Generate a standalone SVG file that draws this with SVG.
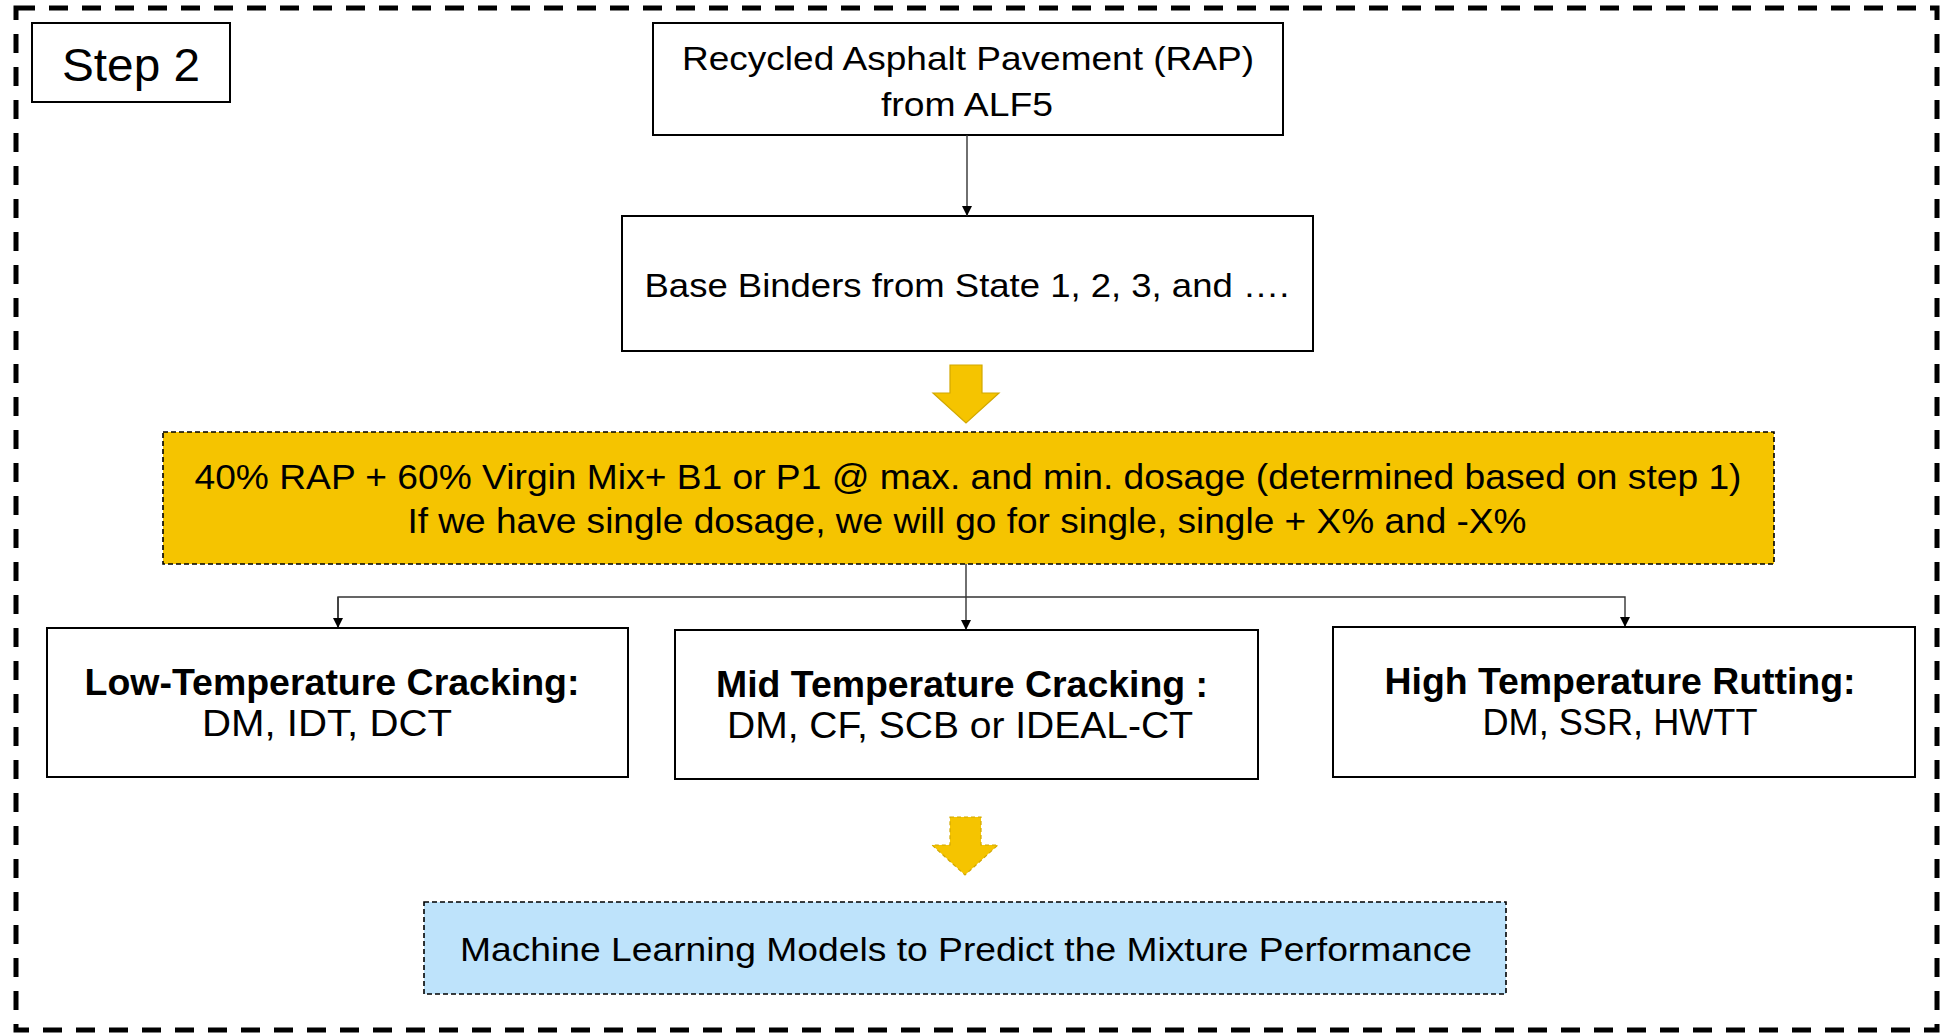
<svg xmlns="http://www.w3.org/2000/svg" width="1944" height="1035" viewBox="0 0 1944 1035">
<defs>
<marker id="ah" viewBox="0 0 10 10" refX="10" refY="5" markerWidth="10" markerHeight="10" markerUnits="userSpaceOnUse" orient="auto">
<path d="M0,0 L10,5 L0,10 Z" fill="#000"/>
</marker>
<style>
.box{fill:#fff;stroke:#000;stroke-width:2}
.t{font-family:"Liberation Sans",Arial,sans-serif;fill:#000;text-anchor:middle}
.b{font-weight:bold}
.conn{fill:none;stroke:#333;stroke-width:1.4}
.dash{stroke:#000;stroke-width:1.6;stroke-dasharray:5 3}
.yarrow{fill:#F5C400;stroke:#D2A800;stroke-width:1.2}
</style>
</defs>
<rect width="1944" height="1035" fill="#fff"/>
<rect id="frame" x="16" y="8" width="1921" height="1022" fill="none" stroke="#000" stroke-width="5" stroke-dasharray="19 14"/>

<g id="step2">
<rect class="box" x="32" y="23" width="198" height="79"/>
<text class="t" x="131" y="81" font-size="47" textLength="138" lengthAdjust="spacingAndGlyphs">Step 2</text>
</g>

<g id="rap">
<rect class="box" x="653" y="23" width="630" height="112"/>
<text class="t" x="968" y="70" font-size="34" textLength="572" lengthAdjust="spacingAndGlyphs">Recycled Asphalt Pavement (RAP)</text>
<text class="t" x="967" y="116" font-size="34" textLength="172" lengthAdjust="spacingAndGlyphs">from ALF5</text>
</g>

<g id="base">
<rect class="box" x="622" y="216" width="691" height="135"/>
<text class="t" x="967" y="297" font-size="34" textLength="645" lengthAdjust="spacingAndGlyphs">Base Binders from State 1, 2, 3, and ….</text>
</g>

<g id="arrow1">
<path class="yarrow" d="M950,365 H982 V393 H999 L966,423 L933,393 H950 Z"/>
</g>

<g id="mix">
<rect class="dash" x="163" y="432" width="1611" height="132" fill="#F5C400"/>
<text class="t" x="968" y="489" font-size="35" textLength="1547" lengthAdjust="spacingAndGlyphs">40% RAP + 60% Virgin Mix+ B1 or P1 @ max. and min. dosage (determined based on step 1)</text>
<text class="t" x="967" y="533" font-size="35" textLength="1119" lengthAdjust="spacingAndGlyphs">If we have single dosage, we will go for single, single + X% and -X%</text>
</g>

<g id="connectors">
<line class="conn" x1="967" y1="135" x2="967" y2="216" marker-end="url(#ah)"/>
<line class="conn" x1="966" y1="564" x2="966" y2="630" marker-end="url(#ah)"/>
<polyline class="conn" points="338,628 338,597 1625,597 1625,627" marker-end="url(#ah)"/>
<line class="conn" x1="338" y1="597" x2="338" y2="628" marker-end="url(#ah)"/>
</g>

<g id="low">
<rect class="box" x="47" y="628" width="581" height="149"/>
<text class="t b" x="332" y="695" font-size="36" textLength="495" lengthAdjust="spacingAndGlyphs">Low-Temperature Cracking:</text>
<text class="t" x="327" y="736" font-size="36" textLength="250" lengthAdjust="spacingAndGlyphs">DM, IDT, DCT</text>
</g>

<g id="mid">
<rect class="box" x="675" y="630" width="583" height="149"/>
<text class="t b" x="962" y="697" font-size="36" textLength="492" lengthAdjust="spacingAndGlyphs">Mid Temperature Cracking :</text>
<text class="t" x="960" y="738" font-size="36" textLength="466" lengthAdjust="spacingAndGlyphs">DM, CF, SCB or IDEAL-CT</text>
</g>

<g id="high">
<rect class="box" x="1333" y="627" width="582" height="150"/>
<text class="t b" x="1620" y="694" font-size="36" textLength="471" lengthAdjust="spacingAndGlyphs">High Temperature Rutting:</text>
<text class="t" x="1620" y="735" font-size="36" textLength="275" lengthAdjust="spacingAndGlyphs">DM, SSR, HWTT</text>
</g>

<g id="arrow2">
<path class="yarrow" d="M950,817 H981 V845 H998 L965,875 L932,845 H950 Z" stroke-dasharray="4 3"/>
</g>

<g id="ml">
<rect class="dash" x="424" y="902" width="1082" height="92" fill="#BEE3FB"/>
<text class="t" x="966" y="961" font-size="34" textLength="1012" lengthAdjust="spacingAndGlyphs">Machine Learning Models to Predict the Mixture Performance</text>
</g>
</svg>
